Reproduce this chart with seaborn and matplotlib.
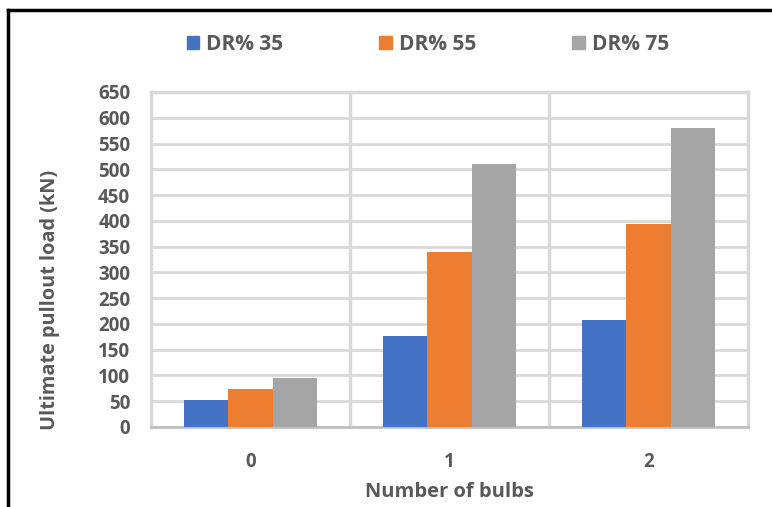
import matplotlib
matplotlib.use("Agg")
import matplotlib.pyplot as plt
from matplotlib.lines import Line2D
import seaborn as sns
import pandas as pd

# Ultimate pullout load (kN) per number of bulbs, for each relative density
bulbs = ["0", "1", "2"]
series = ["DR% 35", "DR% 55", "DR% 75"]
dr35 = [52, 177, 207]
dr55 = [74, 339, 394]
dr75 = [95, 510, 581]
y_ticks = list(range(0, 651, 50))

colors = ["#4472C4", "#ED7D31", "#A5A5A5"]
text_color = "#595959"
grid_color = "#D9D9D9"

df = pd.DataFrame({
    "bulbs": bulbs * 3,
    "series": [s for s in series for _ in bulbs],
    "load": dr35 + dr55 + dr75,
})

sns.set_theme(style="white")
plt.rcParams["font.family"] = ["Open Sans", "DejaVu Sans"]

fig = plt.figure(figsize=(7.72, 5.07), dpi=100)
ax = fig.add_axes([151 / 772, 1 - 427 / 507, (748 - 151) / 772, (427 - 92) / 507])

sns.barplot(data=df, x="bulbs", y="load", hue="series", order=bulbs,
            hue_order=series, palette=colors, width=0.67, gap=0,
            edgecolor="none", saturation=1, errorbar=None, ax=ax, zorder=3)

ax.set_ylim(0, 650)
ax.set_xlim(-0.5, 2.5)
ax.set_yticks(y_ticks)
ax.set_yticklabels([str(v) for v in y_ticks])

# horizontal gridlines and category separators
ax.set_xticks([0.5, 1.5], minor=True)
ax.grid(axis="y", which="major", color=grid_color, linewidth=2, zorder=0)
ax.grid(axis="x", which="minor", color=grid_color, linewidth=2.5, zorder=0)
ax.grid(axis="x", which="major", visible=False)
ax.set_axisbelow(True)

for side in ["left", "top", "right"]:
    ax.spines[side].set_color(grid_color)
    ax.spines[side].set_linewidth(2.5)
ax.spines["bottom"].set_color("#BFBFBF")
ax.spines["bottom"].set_linewidth(2)

ax.tick_params(axis="both", which="both", length=0)
ax.tick_params(axis="y", pad=15, labelsize=13.5, labelcolor=text_color)
ax.tick_params(axis="x", pad=18, labelsize=13.5, labelcolor=text_color)
for lab in ax.get_xticklabels() + ax.get_yticklabels():
    lab.set_fontweight("bold")

ax.set_xlabel("Number of bulbs", fontsize=14.5, fontweight="bold",
              color=text_color, labelpad=7)
ax.set_ylabel("")
fig.text(50 / 772, 1 - 300 / 507, "Ultimate pullout load (kN)", rotation=90,
         ha="center", va="center", fontsize=14.3, fontweight="bold",
         color=text_color)

ax.get_legend().remove()
handles = [plt.Rectangle((0, 0), 1, 1, color=c) for c in colors]
fig.legend(handles, series, loc="center", bbox_to_anchor=(428 / 772, 1 - 44 / 507),
           ncol=3, frameon=False, handlelength=0.6, handleheight=0.6,
           handletextpad=0.35, columnspacing=4.6,
           prop={"size": 15, "weight": "bold"}, labelcolor=text_color)

# outer frame of the chart
fig.add_artist(Line2D([8 / 772, 8 / 772], [0, 1 - 10 / 507], transform=fig.transFigure,
                      color="black", linewidth=2.5, solid_capstyle="projecting"))
fig.add_artist(Line2D([8 / 772, 1], [1 - 10 / 507, 1 - 10 / 507], transform=fig.transFigure,
                      color="black", linewidth=2.5, solid_capstyle="projecting"))

fig.savefig("out.png", dpi=100)
